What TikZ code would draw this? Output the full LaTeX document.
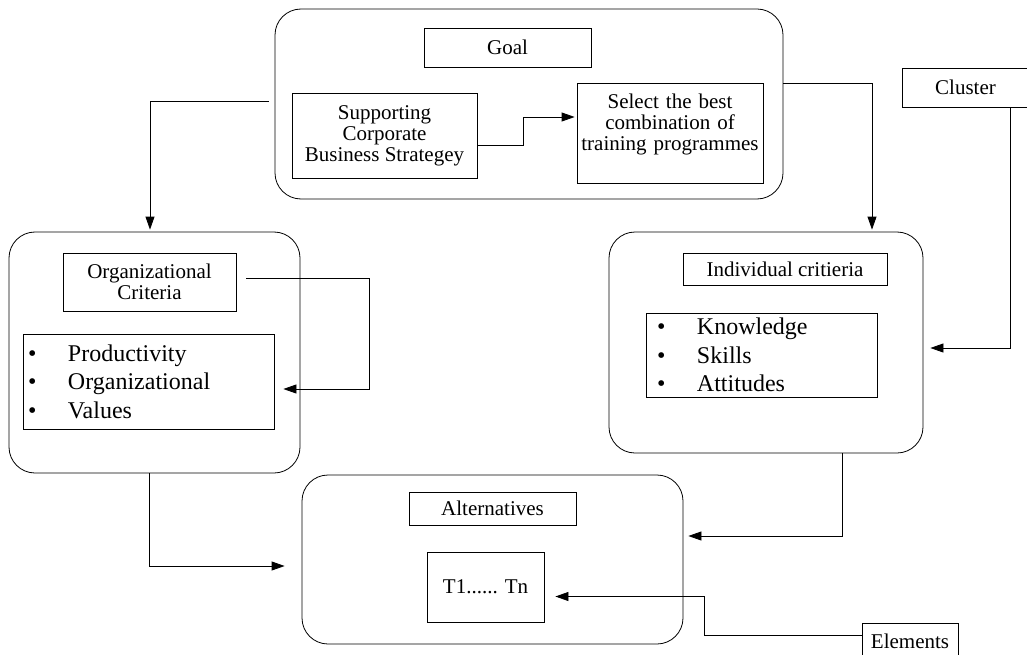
\documentclass[tikz,border=0pt]{standalone}
\usepackage{fontspec}
\setmainfont{Liberation Serif}
\usepackage{tikz}
\usetikzlibrary{arrows.meta}
\newcommand{\itm}[1]{\makebox[40pt][l]{\textbullet}#1}

\begin{document}
\begin{tikzpicture}[
	x=1pt, y=-1pt,
	line width=0.8pt,
	font=\fontsize{21}{21}\selectfont
]
\tikzset{
    groupbox/.style = {draw=black, rounded corners=26pt, inner sep=0pt},
		itembox/.style = {draw=black, align=center, inner sep=0pt},
		listbox/.style = {draw=black, align=left, inner ysep=0pt, font=\fontsize{24}{28.5}\selectfont},
		arr/.style = {-{Triangle[length=13pt,width=9pt]}}
}
\useasboundingbox (0,0) rectangle (1027,655);

% clusters
\node [groupbox, minimum width=508pt, minimum height=190pt] (goalgrp) at (529,104) {};
\node [groupbox, minimum width=291pt, minimum height=241pt] (orggrp) at (154.5,352.5) {};
\node [groupbox, minimum width=314pt, minimum height=221pt] (indgrp) at (766,342.5) {};
\node [groupbox, minimum width=381pt, minimum height=169pt] (altgrp) at (492.5,559.5) {};

% elements
\node [itembox, minimum width=167pt, minimum height=39pt] (goal) at (507.5,47.5) {Goal};
\node [itembox, minimum width=185pt, minimum height=85pt] (support) at (384.5,135.5) {Supporting\\Corporate\\Business Strategey};
\node [itembox, anchor=north, text width=182pt, inner xsep=2pt, inner ysep=10.5pt] (select) at (670,83) {Select the best\\combination of\\training programmes\\[1pt]\mbox{}};
\node [itembox, minimum width=173pt, minimum height=58pt] (orgcrit) at (149.5,282) {Organizational\\Criteria};
\node [listbox, text width=241pt, inner xsep=5pt, minimum height=95pt] (orglist) at (148.5,381.5) {\itm{Productivity}\\\itm{Organizational}\\\itm{Values}};
\node [itembox, minimum width=204pt, minimum height=32pt] (indcrit) at (785,269) {Individual critieria};
\node [listbox, text width=209pt, inner xsep=11pt, minimum height=84pt] (indlist) at (761.5,355) {\itm{Knowledge}\\\itm{Skills}\\\itm{Attitudes}};
\node [itembox, minimum width=127pt, minimum height=39pt] (cluster) at (965.5,87.5) {Cluster};
\node [itembox, minimum width=167pt, minimum height=33pt] (alt) at (492.5,508.5) {Alternatives};
\node [itembox, minimum width=117pt, minimum height=70pt] (tn) at (485.5,587) {T1...... Tn};
\node [itembox, minimum width=96pt, minimum height=36pt] (elements) at (910,641) {Elements};

% links
\coordinate (gout) at ([xshift=-6pt,yshift=3pt]goalgrp.west);
\draw [arr] (gout) -| ([xshift=-4.5pt,yshift=2pt]orggrp.north);
\draw [arr] ([yshift=21pt]goalgrp.east) -| ([xshift=106pt,yshift=2pt]indgrp.north);
\draw [arr] ([yshift=-9.5pt]support.east) -- ++(46,0) |- ([xshift=-2pt,yshift=-34pt]select.north west);
\draw [arr] ([xshift=10pt,yshift=4pt]orgcrit.east) -- ++(123,0) |- ([xshift=9pt,yshift=-7.5pt]orglist.east);
\draw [arr] ([xshift=44.5pt]cluster.south) |- ([xshift=7pt,yshift=-5.5pt]indgrp.east);
\draw [arr] ([xshift=-5.5pt]orggrp.south) |- ([xshift=-17pt,yshift=-6.5pt]altgrp.west);
\draw [arr] ([xshift=76pt]indgrp.south) |- ([xshift=5pt,yshift=23.5pt]altgrp.east);
\draw [arr] ([yshift=6pt]elements.west) -- ++(-157,0) |- ([xshift=11pt,yshift=-9.5pt]tn.east);
\end{tikzpicture}
\end{document}
